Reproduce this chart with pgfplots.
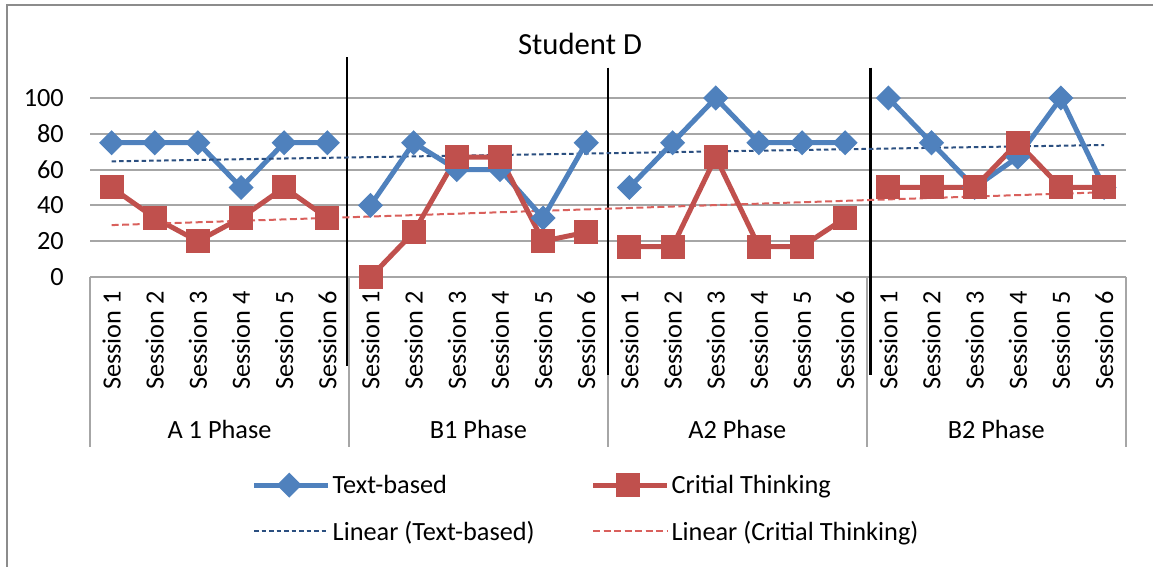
\documentclass[border=0pt]{standalone}
\usepackage{pgfplots}
\pgfplotsset{compat=1.18}
\usepackage{pgfplotstable}
\usepackage{fontspec}
\setmainfont{Carlito}
\definecolor{tbblue}{HTML}{4F81BD}
\definecolor{ctred}{HTML}{C0504D}
\definecolor{tbtrend}{HTML}{2B4F80}
\definecolor{cttrend}{HTML}{D9605C}
\definecolor{gridgray}{HTML}{A6A6A6}
\definecolor{framegray}{HTML}{8C8C8C}

\pgfplotstableread{
x tb ct
0 75 50
1 75 33
2 75 20
3 50 33
4 75 50
5 75 33
6 40 0
7 75 25
8 60 67
9 60 67
10 33 20
11 75 25
12 50 17
13 75 17
14 100 67
15 75 17
16 75 17
17 75 33
18 100 50
19 75 50
20 50 50
21 67 75
22 100 50
23 50 50
}\data

\newcommand{\lbl}{\fontsize{26.3}{31}\selectfont}

\pgfplotsset{
  tbstyle/.style={tbblue, line width=5pt, mark=square*, mark size=6.36pt,
    mark options={rotate=45, draw=none, fill=tbblue}, unbounded coords=jump},
  ctstyle/.style={ctred, line width=5pt, mark=square*, mark size=9.5pt,
    mark options={draw=none, fill=ctred}, unbounded coords=jump},
}

\begin{document}
\begin{tikzpicture}[x=1pt,y=1pt]
\useasboundingbox (0,0) rectangle (1153,567);
\draw[framegray, line width=2pt] (7,0) -- (7,562) -- (1153,562);
\node[font=\fontsize{30.7}{36}\selectfont, anchor=base, inner sep=0pt] at (580,512) {Student D};
\begin{axis}[
  at={(90pt,290pt)}, anchor=south west,
  scale only axis, width=1035.7pt, height=179pt,
  xmin=-0.5, xmax=23.5, ymin=0, ymax=100,
  ytick={0,20,...,100},
  xtick={0,...,23},
  xticklabels={Session 1,Session 2,Session 3,Session 4,Session 5,Session 6,
               Session 1,Session 2,Session 3,Session 4,Session 5,Session 6,
               Session 1,Session 2,Session 3,Session 4,Session 5,Session 6,
               Session 1,Session 2,Session 3,Session 4,Session 5,Session 6},
  ymajorgrids, grid style={gridgray, line width=2pt},
  axis line style={draw=none},
  major tick length=0pt,
  tick label style={font=\lbl},
  /pgf/number format/assume math mode=true,
  yticklabel style={anchor=east, inner sep=0pt},
  yticklabel shift=26pt,
  xticklabel style={rotate=90, anchor=east, inner sep=0pt},
  xticklabel shift=14pt,
  clip=false,
  legend columns=2,
  legend style={at={(0.479,-1.293)}, anchor=center, draw=none, fill=none,
    font=\lbl, cells={anchor=west}, row sep=22pt,
    /tikz/every even column/.append style={column sep=54pt}},
  legend image code/.code={\path (0pt,0pt) -- (74pt,0pt);\draw[mark repeat=2,mark phase=2] plot coordinates {(0pt,0pt) (35pt,0pt) (70pt,0pt)};},
]
% phase separators
\foreach \s in {-0.5,5.5,11.5,17.5,23.5}{
  \edef\temp{\noexpand\draw[gridgray, line width=2pt] (axis cs:\s,0) -- (axis cs:\s,-95);}
  \temp
}
\draw[black, line width=2.5pt] (axis cs:5.45,122.7) -- (axis cs:5.45,-50);
\draw[black, line width=2.5pt] (axis cs:11.5,117) -- (axis cs:11.5,-55);
\draw[black, line width=2.5pt] (axis cs:17.59,117) -- (axis cs:17.59,-55);
\node[anchor=base, font=\lbl, inner sep=0pt] at (axis cs:2.5,-90) {A 1 Phase};
\node[anchor=base, font=\lbl, inner sep=0pt] at (axis cs:8.5,-90) {B1 Phase};
\node[anchor=base, font=\lbl, inner sep=0pt] at (axis cs:14.5,-90) {A2 Phase};
\node[anchor=base, font=\lbl, inner sep=0pt] at (axis cs:20.5,-90) {B2 Phase};

\addplot[tbstyle, restrict x to domain=0:5] table[x=x,y=tb] {\data};
\addlegendentry{Text-based}
\addplot[ctstyle, restrict x to domain=0:5] table[x=x,y=ct] {\data};
\addlegendentry{Critial Thinking}
\addplot[tbtrend, line width=2pt, dash pattern=on 4.5pt off 3pt, no markers]
  table[x=x,y={create col/linear regression={y=tb}}] {\data};
\addlegendentry{Linear (Text-based)}
\addplot[cttrend, line width=2pt, dash pattern=on 7pt off 3.5pt, no markers]
  table[x=x,y={create col/linear regression={y=ct}}] {\data};
\addlegendentry{Linear (Critial Thinking)}

\addplot[tbstyle, restrict x to domain=6:11, forget plot] table[x=x,y=tb] {\data};
\addplot[tbstyle, restrict x to domain=12:17, forget plot] table[x=x,y=tb] {\data};
\addplot[tbstyle, restrict x to domain=18:23, forget plot] table[x=x,y=tb] {\data};
\addplot[ctstyle, restrict x to domain=6:11, forget plot] table[x=x,y=ct] {\data};
\addplot[ctstyle, restrict x to domain=12:17, forget plot] table[x=x,y=ct] {\data};
\addplot[ctstyle, restrict x to domain=18:23, forget plot] table[x=x,y=ct] {\data};
\end{axis}
\end{tikzpicture}
\end{document}
